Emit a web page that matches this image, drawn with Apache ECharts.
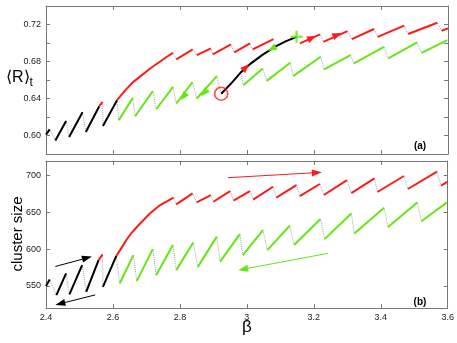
<!DOCTYPE html>
<html>
<head>
<meta charset="utf-8">
<script src="https://cdn.jsdelivr.net/npm/echarts@6/dist/echarts.min.js"></script>
<style>
html, body { margin: 0; padding: 0; background: #fff; }
#main { width: 457px; height: 343px; }
</style>
</head>
<body>
<div id="main"></div>
<script>
// axis ticks
var betaTicks = [2.4, 2.6, 2.8, 3.0, 3.2, 3.4, 3.6];
var rTicks = [0.58, 0.60, 0.62, 0.64, 0.66, 0.68, 0.70, 0.72, 0.74];
var rLabels = [0.60, 0.64, 0.68, 0.72];
var sizeTicks = [550, 600, 650, 700];

// panel (a): <R>_t vs beta, each entry is one continuous piece
var aBlackSaw = [
  [[2.400, 0.6010], [2.411, 0.6066]],
  [[2.428, 0.5946], [2.460, 0.6157]],
  [[2.469, 0.5984], [2.509, 0.6252]],
  [[2.519, 0.6038], [2.559, 0.6317]],
  [[2.570, 0.6103], [2.612, 0.6382]]
];
var aRedTip = [[2.559, 0.6317], [2.569, 0.6363]];
var aRedMain = [[2.612, 0.6382], [2.637, 0.6490], [2.661, 0.6580], [2.711, 0.6725], [2.761, 0.6851], [2.779, 0.6894]];
var aRedSteps = [
  [[2.789, 0.6823], [2.838, 0.6931]],
  [[2.850, 0.6869], [2.892, 0.6942]],
  [[2.898, 0.6877], [2.952, 0.6985]],
  [[2.962, 0.6898], [3.009, 0.6996]],
  [[3.017, 0.6931], [3.079, 0.7043]],
  [[3.158, 0.6996], [3.218, 0.7093]],
  [[3.228, 0.7013], [3.300, 0.7129]],
  [[3.313, 0.7042], [3.379, 0.7151]],
  [[3.390, 0.7067], [3.469, 0.7187]],
  [[3.481, 0.7097], [3.568, 0.7219]],
  [[3.581, 0.7132], [3.600, 0.7158]]
];
var aGreenSteps = [
  [[2.617, 0.6165], [2.659, 0.6407]],
  [[2.666, 0.6208], [2.719, 0.6479]],
  [[2.729, 0.6284], [2.779, 0.6526]],
  [[2.789, 0.6346], [2.837, 0.6577]],
  [[2.850, 0.6400], [2.910, 0.6642]],
  [[2.989, 0.6544], [3.047, 0.6725]],
  [[3.059, 0.6591], [3.129, 0.6786]],
  [[3.138, 0.6642], [3.220, 0.6851]],
  [[3.230, 0.6714], [3.309, 0.6869]],
  [[3.319, 0.6779], [3.409, 0.6959]],
  [[3.422, 0.6833], [3.508, 0.7007]],
  [[3.521, 0.6894], [3.598, 0.7032]]
];
var aReturn = [[2.923, 0.6452], [2.955, 0.6571], [2.982, 0.6685], [3.009, 0.6772], [3.045, 0.6869], [3.084, 0.6961], [3.117, 0.7021], [3.148, 0.7067]];
var aCircle = [[2.923, 0.6452]];
var aPlus = [[3.148, 0.7067]];
// arrow heads: [tailBeta, tailR, tipBeta, tipR]
var aRedHeads = [[2.982, 0.6685, 3.006, 0.6772], [3.176, 0.7026, 3.206, 0.7075], [3.251, 0.7059, 3.281, 0.7108]];
var aGreenHeads = [[3.090, 0.6972, 3.063, 0.6913], [2.815, 0.6441, 2.802, 0.6382], [2.878, 0.6485, 2.863, 0.6425]];

// panel (b): cluster size vs beta
var bBlackSaw = [
  [[2.400, 550.1], [2.411, 558.8]],
  [[2.431, 537.4], [2.460, 567.0]],
  [[2.470, 538.4], [2.508, 578.3]],
  [[2.520, 542.0], [2.557, 585.1]],
  [[2.570, 548.7], [2.610, 590.9]]
];
var bRedTip = [[2.557, 585.1], [2.569, 592.9]];
var bRedMain = [[2.610, 590.9], [2.625, 601.5], [2.640, 612.5], [2.655, 622.0], [2.672, 630.5], [2.692, 640.0], [2.711, 649.0], [2.741, 660.1], [2.781, 670.3]];
var bRedSteps = [
  [[2.789, 661.0], [2.838, 676.0]],
  [[2.850, 663.7], [2.892, 673.7]],
  [[2.900, 664.6], [2.950, 679.1]],
  [[2.960, 666.2], [3.009, 679.1]],
  [[3.019, 667.5], [3.078, 685.0]],
  [[3.088, 670.3], [3.148, 687.3]],
  [[3.158, 672.3], [3.218, 688.7]],
  [[3.230, 673.7], [3.299, 694.1]],
  [[3.312, 676.4], [3.381, 696.4]],
  [[3.390, 677.8], [3.469, 699.6]],
  [[3.481, 681.9], [3.568, 705.4]],
  [[3.580, 686.6], [3.600, 692.0]]
];
var bGreenSteps = [
  [[2.620, 553.4], [2.661, 591.9]],
  [[2.671, 556.5], [2.719, 600.1]],
  [[2.729, 564.7], [2.779, 605.6]],
  [[2.789, 571.5], [2.840, 609.0]],
  [[2.853, 575.6], [2.910, 617.1]],
  [[2.920, 583.0], [2.979, 620.5]],
  [[2.988, 591.9], [3.048, 626.0]],
  [[3.061, 598.7], [3.128, 631.9]],
  [[3.141, 605.6], [3.220, 641.0]],
  [[3.232, 613.7], [3.312, 648.5]],
  [[3.321, 621.5], [3.410, 656.4]],
  [[3.421, 630.0], [3.509, 663.5]],
  [[3.521, 638.1], [3.598, 663.7]]
];
// long arrows: [tailBeta, tailSize, tipBeta, tipSize]
var bBlackArrows = [[2.428, 576.5, 2.537, 589.9], [2.547, 537.8, 2.428, 524.2]];
var bRedArrows = [[2.944, 697.3, 3.224, 704.6]];
var bGreenArrows = [[3.242, 594.3, 2.974, 571.5]];

var RED = '#ff1a1a', GREEN = '#66e614', BLACK = '#000', DOT = '#a8a8a8';
var FONT = 'Liberation Sans';

// dotted jumps: end of one piece to start of the next
function chain(segs) {
  var out = [];
  for (var i = 0; i + 1 < segs.length; i++) {
    var a = segs[i], b = segs[i + 1];
    out.push([a[a.length - 1], b[0]]);
  }
  return out;
}

var aDots = chain([aBlackSaw[0], aBlackSaw[1], aBlackSaw[2], [aBlackSaw[3][0], aRedTip[1]], aBlackSaw[4]]
    .concat(aGreenSteps.slice(0, 5)).concat([aCircle]))
  .concat(chain([aRedMain].concat(aRedSteps.slice(0, 5))))
  .concat(chain(aRedSteps.slice(5)))
  .concat(chain(aGreenSteps.slice(5)))
  .concat([[aReturn[2], aGreenSteps[5][0]]]);

var bDots = chain([bBlackSaw[0], bBlackSaw[1], bBlackSaw[2], [bBlackSaw[3][0], bRedTip[1]], bBlackSaw[4]]
    .concat(bGreenSteps))
  .concat(chain([bRedMain].concat(bRedSteps)));

function pieces(name, segs, color, width, panel, type) {
  return {
    name: name,
    type: 'lines',
    coordinateSystem: 'cartesian2d',
    xAxisIndex: panel * 2,
    yAxisIndex: panel * 2,
    polyline: true,
    silent: true,
    z: type ? 1 : 3,
    lineStyle: { color: color, width: width, opacity: 1, type: type || 'solid', curveness: 0 },
    data: segs.map(function (s) { return { coords: s }; })
  };
}

function arrows(name, data, color, panel, headOnly, L, W) {
  return {
    name: name,
    type: 'custom',
    coordinateSystem: 'cartesian2d',
    xAxisIndex: panel * 2,
    yAxisIndex: panel * 2,
    silent: true,
    z: 6,
    encode: { x: [0, 2], y: [1, 3] },
    data: data,
    renderItem: function (params, api) {
      var p1 = api.coord([api.value(0), api.value(1)]);
      var p2 = api.coord([api.value(2), api.value(3)]);
      var dx = p2[0] - p1[0], dy = p2[1] - p1[1];
      var d = Math.sqrt(dx * dx + dy * dy) || 1;
      var ux = dx / d, uy = dy / d;
      var bx = p2[0] - ux * L, by = p2[1] - uy * L;
      var head = {
        type: 'polygon',
        shape: { points: [p2, [bx - uy * W, by + ux * W], [bx + uy * W, by - ux * W]] },
        style: { fill: color }
      };
      if (headOnly) return head;
      return {
        type: 'group',
        children: [
          { type: 'line', shape: { x1: p1[0], y1: p1[1], x2: bx, y2: by }, style: { stroke: color, lineWidth: 1 } },
          head
        ]
      };
    }
  };
}

function xAx(grid, pos, labels) {
  return {
    type: 'value', gridIndex: grid, position: pos, min: 2.4, max: 3.6,
    axisLine: { show: true, onZero: false, lineStyle: { color: '#777', width: 1 } },
    axisTick: { show: true, inside: true, length: 4, customValues: betaTicks, lineStyle: { color: '#777' } },
    axisLabel: { show: labels, customValues: betaTicks, margin: 5, color: '#222', fontSize: 9, fontFamily: FONT },
    splitLine: { show: false }
  };
}

function yAx(grid, pos, min, max, ticks, labelVals, fmt) {
  return {
    type: 'value', gridIndex: grid, position: pos, min: min, max: max,
    axisLine: { show: true, onZero: false, lineStyle: { color: '#777', width: 1 } },
    axisTick: { show: true, inside: true, length: 4, customValues: ticks, lineStyle: { color: '#777' } },
    axisLabel: { show: !!labelVals, customValues: labelVals || ticks, margin: 5, color: '#222', fontSize: 9, fontFamily: FONT, formatter: fmt },
    splitLine: { show: false }
  };
}

var chart = echarts.init(document.getElementById('main'));
chart.setOption({
  animation: false,
  backgroundColor: '#fff',
  grid: [
    { left: 46, right: 9, top: 6, height: 148 },
    { left: 46, right: 9, top: 161, height: 147 }
  ],
  xAxis: [
    xAx(0, 'bottom', false), xAx(0, 'top', false),
    xAx(1, 'bottom', true), xAx(1, 'top', false)
  ],
  yAxis: [
    yAx(0, 'left', 0.58, 0.74, rTicks, rLabels, function (v) { return v.toFixed(2); }),
    yAx(0, 'right', 0.58, 0.74, rTicks, null),
    yAx(1, 'left', 520, 720, sizeTicks, sizeTicks),
    yAx(1, 'right', 520, 720, sizeTicks, null)
  ],
  graphic: [
    { type: 'text', left: 6, top: 70, style: { rich: {
        a: { fontSize: 16, fontFamily: FONT, fill: '#000' },
        b: { fontSize: 12, fontFamily: FONT, fill: '#000', padding: [10, 0, 0, 0] }
      }, text: '{a|\u27E8R\u27E9}{b|t}' } },
    { type: 'text', x: 18, y: 234, rotation: Math.PI / 2,
      style: { text: 'cluster size', fontSize: 15, fontFamily: FONT, fill: '#000', align: 'center', verticalAlign: 'middle' } },
    { type: 'text', x: 247, y: 327,
      style: { text: '\u03B2', fontSize: 17, fontFamily: FONT, fill: '#000', align: 'center', verticalAlign: 'middle' } },
    { type: 'text', x: 420, y: 146,
      style: { text: '(a)', fontSize: 10, fontWeight: 'bold', fontFamily: FONT, fill: '#000', align: 'center', verticalAlign: 'middle' } },
    { type: 'text', x: 420, y: 302,
      style: { text: '(b)', fontSize: 10, fontWeight: 'bold', fontFamily: FONT, fill: '#000', align: 'center', verticalAlign: 'middle' } }
  ],
  series: [
    pieces('a jumps', aDots, DOT, 1, 0, 'dotted'),
    pieces('a black', aBlackSaw, BLACK, 2, 0),
    pieces('a red', [aRedTip, aRedMain].concat(aRedSteps), RED, 2, 0),
    pieces('a green', aGreenSteps, GREEN, 2, 0),
    pieces('a return', [aReturn], BLACK, 2, 0),
    {
      name: 'start', type: 'scatter', xAxisIndex: 0, yAxisIndex: 0, silent: true, z: 7,
      symbol: 'circle', symbolSize: 13,
      itemStyle: { color: 'rgba(0,0,0,0)', borderColor: RED, borderWidth: 1.6 },
      data: aCircle
    },
    {
      name: 'end', type: 'scatter', xAxisIndex: 0, yAxisIndex: 0, silent: true, z: 7,
      symbol: 'path://M4,0h2v4h4v2h-4v4h-2v-4h-4v-2h4z', symbolSize: 12,
      itemStyle: { color: GREEN },
      data: aPlus
    },
    arrows('a red heads', aRedHeads, RED, 0, true, 9, 3.5),
    arrows('a green heads', aGreenHeads, GREEN, 0, true, 9, 3.5),

    pieces('b jumps', bDots, DOT, 1, 1, 'dotted'),
    pieces('b black', bBlackSaw, BLACK, 2, 1),
    pieces('b red', [bRedTip, bRedMain].concat(bRedSteps), RED, 2, 1),
    pieces('b green', bGreenSteps, GREEN, 2, 1),
    arrows('b black arrows', bBlackArrows, BLACK, 1, false, 10, 3.5),
    arrows('b red arrows', bRedArrows, RED, 1, false, 10, 3.5),
    arrows('b green arrows', bGreenArrows, GREEN, 1, false, 10, 3.5)
  ]
});
</script>
</body>
</html>
